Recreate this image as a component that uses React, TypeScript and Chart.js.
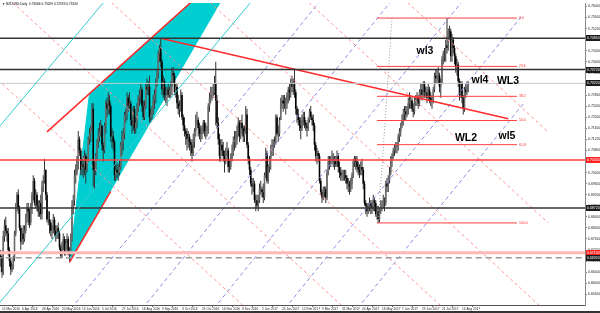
import React, { useEffect, useRef } from 'react';
import { Chart, registerables } from 'chart.js';
Chart.register(...registerables);

const FONT = '"Liberation Sans", Arial, sans-serif';

// ---- x axis tick labels (every 16 daily bars, first at bar 3) ----
const dateLabels = [
  '15 Mar 2016', '6 Apr 2016', '28 Apr 2016', '20 May 2016', '13 Jun 2016', '5 Jul 2016',
  '27 Jul 2016', '18 Aug 2016', '9 Sep 2016', '3 Oct 2016', '25 Oct 2016', '16 Nov 2016',
  '8 Dec 2016', '2 Jan 2017', '24 Jan 2017', '15 Feb 2017', '9 Mar 2017', '31 Mar 2017',
  '24 Apr 2017', '16 May 2017', '7 Jun 2017', '29 Jun 2017', '21 Jul 2017', '14 Aug 2017',
];
const dateLabelBars = [3, 19, 35, 51, 67, 83, 99, 115, 131, 147, 163, 179, 195, 211, 227, 243, 259, 275, 291, 307, 323, 339, 355, 371];

// ---- y axis ticks ----
const yTicks = [0.76, 0.756, 0.752, 0.748, 0.744, 0.74, 0.736, 0.732, 0.728, 0.724, 0.72, 0.716, 0.712, 0.708, 0.704, 0.7, 0.696, 0.692, 0.688, 0.684, 0.68, 0.676, 0.672, 0.668, 0.664, 0.66, 0.656];

// ---- daily candles NZDUSD (pips), bar 0 = 10 Mar 2016 ----
const firstOpen = 6760;
const closes = [
  6640, 6700, 6690, 6640, 6770, 6810, 6790,
  6780, 6720, 6680, 6650, 6660, 6690, 6780, 6880, 6920, 6870,
  6800, 6750, 6780, 6760, 6790, 6840, 6870, 6860, 6820, 6880,
  6920, 6970, 6890, 6920, 6880, 6860, 6890, 6850, 6950, 6970,
  7010, 6920, 6830, 6830, 6820, 6790, 6790, 6830, 6790, 6770,
  6800, 6780, 6730, 6700, 6740, 6760, 6710, 6740, 6760, 6710,
  6720, 6760, 6880, 6900, 6990, 7000, 7050, 7120, 7080, 7010,
  7030, 7020, 7060, 7010, 7040, 7120, 7140, 7160, 7230, 7010,
  7010, 7060, 7110, 7130, 7150, 7170, 7100, 7080, 7170, 7250,
  7230, 7260, 7240, 7130, 7130, 7110, 6990, 7010, 7000, 7000,
  7020, 7100, 7110, 7140, 7210, 7210, 7270, 7240, 7250, 7190,
  7170, 7230, 7160, 7180, 7230, 7270, 7280, 7300, 7240, 7200,
  7240, 7310, 7300, 7310, 7200, 7210, 7230, 7260, 7280, 7320,
  7360, 7430, 7450, 7400, 7300, 7330, 7280, 7280, 7300, 7280,
  7300, 7310, 7360, 7350, 7290, 7310, 7250, 7230, 7240, 7280,
  7200, 7170, 7150, 7140, 7120, 7130, 7110, 7100, 7070, 7110,
  7150, 7190, 7190, 7160, 7140, 7140, 7160, 7180, 7150, 7150,
  7150, 7240, 7270, 7290, 7290, 7290, 7320, 7260, 7180, 7120,
  7060, 7100, 7080, 7060, 7040, 7080, 7080, 7020, 7020, 7050,
  7070, 7110, 7120, 7120, 7150, 7180, 7130, 7180, 7160, 7130,
  7150, 7210, 7100, 7050, 7010, 6960, 6950, 6960, 6900, 6900,
  6880, 6900, 6940, 6940,
  6930, 6910, 6990, 7070, 6970, 7020, 7050, 7080, 7090, 7100,
  7110, 7200, 7140, 7140, 7190, 7250, 7260, 7250, 7250, 7250,
  7280, 7300, 7290, 7320, 7310, 7320, 7290, 7230, 7210, 7190,
  7170, 7160, 7190, 7200, 7180, 7170, 7160, 7190, 7220, 7200,
  7190, 7170, 7100, 7060, 7070, 7060, 6970, 6930, 6910, 6930,
  6940, 6910, 7000, 7040, 7040, 7050, 7050, 7040, 7040, 7030,
  7060, 7020, 7000, 6990, 6990, 6990, 6990, 6980, 6960, 6960,
  6950, 6960, 6990, 7040, 7050, 7040, 7020, 7010, 7000, 7020,
  7010, 6960, 6890, 6880, 6860, 6880, 6890, 6880, 6870, 6900,
  6890, 6850, 6860, 6830, 6860, 6880, 6880, 6890, 6890, 6960,
  6950, 6970, 7000, 7040, 7060, 7080, 7090, 7090, 7090, 7130,
  7150, 7170, 7190, 7210, 7220, 7210, 7230, 7250, 7260, 7260,
  7230, 7220, 7260, 7260, 7270, 7250, 7290, 7300, 7280, 7320,
  7290, 7290, 7270, 7300, 7270, 7260, 7260, 7300, 7350, 7340,
  7350, 7350, 7310, 7320, 7410, 7430, 7430, 7460, 7450, 7510,
  7510, 7420, 7480, 7450, 7420, 7380, 7390, 7330, 7280, 7320,
  7270, 7230, 7300, 7290, 7310, 7320,
];
const highs = [
  6780, 6730, 6720, 6700, 6790, 6830, 6840,
  6800, 6800, 6730, 6690, 6670, 6700, 6790, 6890, 6930, 6940,
  6880, 6810, 6800, 6810, 6810, 6850, 6890, 6890, 6870, 6890,
  6930, 6990, 6980, 6940, 6930, 6900, 6900, 6920, 6970, 6990,
  7050, 7010, 6930, 6860, 6860, 6830, 6810, 6850, 6840, 6810,
  6810, 6820, 6790, 6740, 6750, 6780, 6770, 6760, 6780, 6770,
  6730, 6780, 6900, 6920, 7010, 7030, 7060, 7150, 7130, 7090,
  7050, 7060, 7080, 7070, 7060, 7130, 7160, 7170, 7250, 7250,
  7040, 7070, 7120, 7160, 7180, 7190, 7170, 7110, 7180, 7260,
  7270, 7290, 7280, 7250, 7160, 7150, 7120, 7030, 7040, 7030,
  7050, 7110, 7150, 7160, 7220, 7230, 7290, 7280, 7290, 7260,
  7200, 7240, 7240, 7200, 7250, 7280, 7300, 7320, 7310, 7260,
  7260, 7320, 7340, 7330, 7350, 7230, 7240, 7280, 7300, 7340,
  7370, 7440, 7460, 7485, 7410, 7350, 7340, 7310, 7310, 7320,
  7310, 7330, 7380, 7380, 7360, 7320, 7320, 7280, 7260, 7300,
  7290, 7210, 7200, 7160, 7160, 7150, 7140, 7120, 7120, 7140,
  7160, 7210, 7220, 7200, 7180, 7170, 7170, 7190, 7190, 7180,
  7170, 7250, 7290, 7310, 7310, 7320, 7350, 7400, 7280, 7200,
  7140, 7120, 7120, 7110, 7080, 7090, 7110, 7090, 7050, 7070,
  7100, 7130, 7150, 7150, 7170, 7200, 7190, 7190, 7210, 7170,
  7170, 7240, 7230, 7110, 7060, 7020, 6980, 6980, 6970, 6920,
  6920, 6920, 6960, 6970,
  6950, 6960, 7000, 7090, 7080, 7030, 7060, 7100, 7120, 7120,
  7130, 7210, 7210, 7170, 7200, 7270, 7280, 7280, 7280, 7270,
  7290, 7310, 7320, 7340, 7350, 7340, 7375, 7300, 7240, 7230,
  7200, 7200, 7210, 7220, 7220, 7190, 7180, 7200, 7230, 7240,
  7210, 7210, 7180, 7110, 7090, 7080, 7070, 6980, 6940, 6950,
  6950, 6950, 7010, 7060, 7060, 7060, 7080, 7070, 7060, 7060,
  7080, 7070, 7040, 7020, 7010, 7010, 7010, 7010, 6990, 6980,
  6970, 6980, 7000, 7050, 7060, 7060, 7060, 7040, 7030, 7040,
  7050, 7020, 6970, 6900, 6890, 6890, 6910, 6900, 6900, 6920,
  6910, 6900, 6880, 6880, 6870, 6900, 6900, 6920, 6910, 6970,
  6980, 6990, 7020, 7060, 7070, 7090, 7100, 7110, 7110, 7140,
  7160, 7180, 7210, 7230, 7240, 7240, 7240, 7270, 7290, 7280,
  7270, 7250, 7270, 7280, 7290, 7280, 7300, 7320, 7320, 7330,
  7330, 7310, 7310, 7320, 7310, 7290, 7280, 7310, 7360, 7370,
  7370, 7380, 7360, 7340, 7420, 7440, 7450, 7480, 7558, 7520,
  7530, 7520, 7500, 7490, 7460, 7430, 7410, 7400, 7340, 7330,
  7330, 7280, 7310, 7320, 7330, 7330,
];
const lows = [
  6570, 6620, 6660, 6620, 6630, 6750, 6770,
  6750, 6700, 6660, 6630, 6640, 6650, 6680, 6770, 6860, 6850,
  6790, 6720, 6740, 6740, 6750, 6780, 6820, 6810, 6800, 6810,
  6850, 6900, 6880, 6870, 6860, 6840, 6840, 6830, 6830, 6930,
  6960, 6900, 6820, 6810, 6780, 6770, 6760, 6780, 6770, 6750,
  6760, 6760, 6720, 6690, 6690, 6720, 6700, 6700, 6720, 6700,
  6676, 6700, 6750, 6850, 6880, 6960, 6990, 7010, 7060, 6990,
  6990, 6980, 6990, 6960, 7000, 7040, 7100, 7110, 7150, 6950,
  6940, 6990, 7050, 7090, 7110, 7130, 7080, 7040, 7070, 7140,
  7200, 7210, 7210, 7110, 7090, 7080, 6970, 6970, 6980, 6970,
  6990, 7010, 7060, 7080, 7120, 7180, 7190, 7220, 7230, 7170,
  7140, 7150, 7140, 7140, 7160, 7220, 7240, 7250, 7220, 7190,
  7190, 7230, 7280, 7280, 7180, 7180, 7190, 7210, 7230, 7250,
  7310, 7340, 7400, 7380, 7280, 7270, 7260, 7250, 7240, 7270,
  7270, 7270, 7280, 7320, 7280, 7270, 7230, 7210, 7200, 7220,
  7190, 7150, 7130, 7100, 7080, 7090, 7080, 7060, 7040, 7060,
  7090, 7130, 7170, 7130, 7120, 7110, 7120, 7140, 7130, 7120,
  7130, 7140, 7220, 7250, 7260, 7270, 7280, 7170, 7160, 7100,
  7040, 7040, 7060, 7040, 7000, 7030, 7060, 7000, 7000, 7010,
  7040, 7060, 7080, 7090, 7100, 7130, 7110, 7120, 7140, 7110,
  7110, 7140, 7090, 7030, 6990, 6950, 6920, 6930, 6890, 6860,
  6870, 6860, 6890, 6920,
  6910, 6890, 6900, 6980, 6960, 6960, 7000, 7010, 7060, 7060,
  7090, 7100, 7130, 7110, 7130, 7190, 7230, 7220, 7230, 7210,
  7230, 7250, 7260, 7270, 7290, 7280, 7270, 7210, 7180, 7170,
  7150, 7120, 7150, 7170, 7160, 7150, 7130, 7150, 7180, 7190,
  7170, 7150, 7080, 7040, 7030, 7040, 6960, 6920, 6890, 6900,
  6910, 6890, 6900, 6990, 7010, 7020, 7030, 7020, 7010, 7020,
  7020, 7000, 6980, 6970, 6970, 6970, 6970, 6960, 6940, 6930,
  6920, 6930, 6940, 6980, 7020, 7010, 7000, 6990, 6980, 6990,
  6990, 6940, 6880, 6850, 6840, 6850, 6860, 6850, 6850, 6860,
  6860, 6840, 6830, 6818, 6820, 6850, 6860, 6870, 6860, 6880,
  6930, 6930, 6960, 6990, 7020, 7050, 7060, 7070, 7070, 7080,
  7110, 7130, 7160, 7170, 7190, 7190, 7200, 7210, 7230, 7230,
  7220, 7200, 7210, 7240, 7240, 7230, 7240, 7270, 7260, 7270,
  7270, 7270, 7250, 7260, 7250, 7240, 7230, 7250, 7290, 7320,
  7320, 7320, 7290, 7270, 7320, 7390, 7400, 7400, 7430, 7440,
  7480, 7400, 7400, 7430, 7390, 7360, 7350, 7310, 7260, 7270,
  7250, 7210, 7220, 7270, 7280, 7290,
];

// ---- horizontal levels (price) ----
const blackLevels = [0.7485, 0.7372, 0.6872];
const currentPrice = 0.7322;
const redLevel = 0.7045;
const pinkLevel = 0.671;
const dashedLevel = 0.6692;

// ---- Fibonacci retracement ----
const fibHigh = 0.7558;
const fibLow = 0.6818;
const fibRatios = [0, 23.6, 38.2, 50, 61.8, 100];
const fibStartBar = 303;
const fibEndBar = 415;
const fibTrend = [[304, 0.6818], [315, 0.7558]];

// ---- trend lines [bar, price] ----
const redTrend = [[130, 0.7485], [408, 0.7194]];
const redChannel = [[39, 0.7147], [165, 0.7659]];
const redLowLeg = [[57, 0.6676], [90, 0.6932]];
const cyanUpper = [[0, 0.7161], [95, 0.7672]];
const cyanLower = [[0, 0.6524], [210, 0.7658]];
const triangle = [[57, 0.6676], [73, 0.7285], [204, 0.7817]];

const pinkGrid = [
  [[-85, 0.7687], [265, 0.6232]],
  [[-6, 0.7687], [344, 0.6232]],
  [[73, 0.7687], [423, 0.6232]],
  [[152, 0.7687], [440, 0.649]],
  [[231, 0.7687], [440, 0.6818]],
  [[310, 0.7687], [440, 0.7146]],
];
const blueGrid = [
  [[55, 0.649], [262, 0.7645]],
  [[112, 0.649], [319, 0.7645]],
  [[169, 0.649], [376, 0.7645]],
  [[226, 0.649], [420, 0.7572]],
  [[284, 0.649], [420, 0.7248]],
];

// ---- text notes ----
const noteTexts = ['wl3', 'wl4', 'WL3', 'WL2', 'wl5'];
const noteBars = [341.4, 385.4, 407.8, 374.2, 407];
const notePrices = [0.7437, 0.7333, 0.733, 0.7126, 0.7133];

const headerText = '\u25BC NZDUSD,Daily  0.73066 0.73209 0.72933 0.73140';

const P = (v: number) => v / 10000;

function lineDs(pts: number[][], color: string, width: number, dash: number[] = [], order = 10) {
  return {
    type: 'line' as const,
    data: pts.map(([x, y]) => ({ x, y })),
    borderColor: color,
    borderWidth: width,
    borderDash: dash,
    pointRadius: 0,
    fill: false,
    tension: 0,
    order,
  };
}

const overlay = {
  id: 'overlay',
  afterDatasetsDraw(chart: any) {
    const { ctx } = chart;
    const xs = chart.scales.x;
    const ys = chart.scales.y;
    ctx.save();
    ctx.font = `3.5px ${FONT}`;
    ctx.fillStyle = '#ff3030';
    ctx.textBaseline = 'middle';
    ctx.textAlign = 'left';
    fibRatios.forEach((r) => {
      const p = fibHigh - ((fibHigh - fibLow) * r) / 100;
      ctx.fillText(r.toFixed(1), xs.getPixelForValue(fibEndBar) + 2, ys.getPixelForValue(p));
    });
    ctx.font = `bold 10.5px ${FONT}`;
    ctx.fillStyle = '#000';
    ctx.textAlign = 'center';
    noteTexts.forEach((t, k) => {
      ctx.fillText(t, xs.getPixelForValue(noteBars[k]), ys.getPixelForValue(notePrices[k]));
    });
    ctx.restore();
  },
  afterDraw(chart: any) {
    const { ctx, chartArea } = chart;
    const ys = chart.scales.y;
    ctx.save();
    const box = (price: number, bg: string) => {
      const yy = Math.round(ys.getPixelForValue(price));
      ctx.fillStyle = bg;
      ctx.fillRect(chartArea.right + 1, yy - 3, 15, 6);
      ctx.fillStyle = '#fff';
      ctx.font = `3.5px ${FONT}`;
      ctx.textAlign = 'left';
      ctx.textBaseline = 'middle';
      ctx.fillText(price.toFixed(5), chartArea.right + 2, yy);
    };
    blackLevels.forEach((p) => box(p, '#1a1a1a'));
    box(currentPrice, '#1a1a1a');
    box(redLevel, '#ff2020');
    box(pinkLevel, '#ff2020');
    box(dashedLevel, '#1a1a1a');
    ctx.fillStyle = '#000';
    ctx.font = `3.2px ${FONT}`;
    ctx.textAlign = 'left';
    ctx.textBaseline = 'middle';
    ctx.fillText(headerText, 2, 4);
    ctx.fillStyle = '#333';
    ctx.fillRect(0, 311, 600, 2);
    ctx.restore();
  },
};

export default function App() {
  const ref = useRef<HTMLCanvasElement>(null);
  useEffect(() => {
    document.body.style.margin = '0';
    const n = Math.min(closes.length, highs.length, lows.length);
    const opens = closes.map((c, i) => (i === 0 ? firstOpen : closes[i - 1]));
    const wickData = [] as any[];
    const bodyData = [] as any[];
    const bodyColors = [] as string[];
    for (let i = 0; i < n; i++) {
      wickData.push({ x: i, y: [P(lows[i]), P(highs[i])] });
      bodyData.push({ x: i, y: [P(opens[i]), P(closes[i])] });
      bodyColors.push(closes[i] >= opens[i] ? '#6a6a6a' : '#000');
    }
    const datasets: any[] = [
      {
        type: 'line',
        data: triangle.map(([x, y]) => ({ x, y })),
        borderColor: '#00CED1',
        backgroundColor: '#00CED1',
        borderWidth: 1,
        pointRadius: 0,
        fill: 'shape',
        tension: 0,
        order: 100,
      },
      {
        type: 'bar',
        data: wickData,
        backgroundColor: '#333',
        barThickness: 1,
        grouped: false,
        borderWidth: 0,
        inflateAmount: 0,
        order: 50,
      },
      {
        type: 'bar',
        data: bodyData,
        backgroundColor: bodyColors,
        barThickness: 1.6,
        grouped: false,
        borderWidth: 0,
        inflateAmount: 0,
        order: 49,
      },
    ];
    pinkGrid.forEach((l) => datasets.push(lineDs(l, '#ff9090', 1, [3, 3], 20)));
    blueGrid.forEach((l) => datasets.push(lineDs(l, '#8c8ce6', 1, [4, 3], 20)));
    datasets.push(lineDs(cyanUpper, '#33cccc', 1));
    datasets.push(lineDs(cyanLower, '#33cccc', 1));
    blackLevels.forEach((p) => datasets.push(lineDs([[-10, p], [500, p]], '#333', 1.5)));
    datasets.push(lineDs([[-10, currentPrice], [500, currentPrice]], '#c8c8c8', 1));
    datasets.push(lineDs([[-10, redLevel], [500, redLevel]], '#ff3b3b', 1.5));
    datasets.push(lineDs([[-10, pinkLevel], [500, pinkLevel]], '#ffb8b8', 3));
    datasets.push(lineDs([[-10, dashedLevel], [500, dashedLevel]], '#999', 1.5, [6, 4]));
    fibRatios.forEach((r) => {
      const p = fibHigh - ((fibHigh - fibLow) * r) / 100;
      datasets.push(lineDs([[fibStartBar, p], [fibEndBar, p]], '#ff4040', 1));
    });
    datasets.push(lineDs(fibTrend, '#999', 1, [1, 2]));
    datasets.push(lineDs(redTrend, '#ff2a2a', 1.5));
    datasets.push(lineDs(redChannel, '#ff2a2a', 1.5));
    datasets.push(lineDs(redLowLeg, '#ff2a2a', 1.5));

    const chart = new Chart(ref.current as HTMLCanvasElement, {
      type: 'bar',
      data: { datasets },
      plugins: [overlay],
      options: {
        responsive: false,
        devicePixelRatio: 1,
        animation: false,
        events: [],
        layout: { padding: 0, autoPadding: false } as any,
        plugins: { legend: { display: false }, tooltip: { enabled: false } },
        scales: {
          x: {
            type: 'linear',
            min: 1.4,
            max: 469.4,
            offset: false,
            afterBuildTicks: (s: any) => {
              s.ticks = dateLabelBars.map((v) => ({ value: v }));
            },
            afterFit: (s: any) => {
              s.height = 8;
            },
            ticks: {
              autoSkip: false,
              maxRotation: 0,
              minRotation: 0,
              align: 'start',
              padding: 0,
              color: '#222',
              font: { size: 3.2, family: FONT },
              callback: (_v: any, i: number) => dateLabels[i],
            },
            grid: { display: true, drawOnChartArea: false, drawTicks: true, tickLength: 2, color: '#666' },
            border: { display: true, color: '#555', width: 1 },
          },
          y: {
            position: 'right',
            min: 0.65216,
            max: 0.7612,
            afterBuildTicks: (s: any) => {
              s.ticks = yTicks.map((v) => ({ value: v }));
            },
            afterFit: (s: any) => {
              s.width = 15;
            },
            ticks: {
              padding: 1,
              color: '#222',
              font: { size: 3.5, family: FONT },
              callback: (v: any) => Number(v).toFixed(5),
            },
            grid: { display: true, drawOnChartArea: false, drawTicks: true, tickLength: 2, color: '#888' },
            border: { display: true, color: '#888', width: 1 },
          },
        },
      } as any,
    });
    return () => chart.destroy();
  }, []);
  return (
    <div style={{ width: 600, height: 313, background: '#fff' }}>
      <canvas ref={ref} width={600} height={313} style={{ display: 'block' }} />
    </div>
  );
}
